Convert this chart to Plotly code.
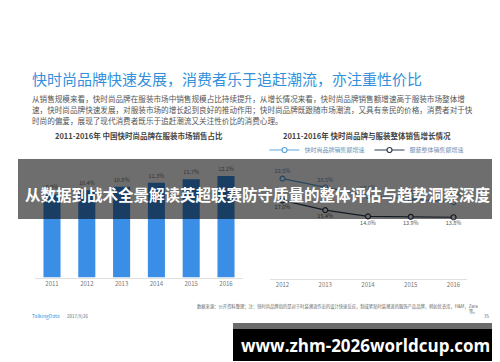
import plotly.graph_objects as go

# ---------------- data ----------------
share_years = ["2011", "2012", "2013", "2014", "2015", "2016"]
share_values = [9.9, 10.4, 10.8, 11.3, 11.7, 12.1]

growth_years = ["2012", "2013", "2014", "2015", "2016"]
fast_fashion_growth = [22.5, 20.5, 18.6, 17.9, 17.2]
apparel_growth = [17.6, 15.4, 14.0, 13.9, 13.8]

title_text = "快时尚品牌快速发展，消费者乐于追赶潮流，亦注重性价比"
para_lines = [
    "从销售规模来看，快时尚品牌在服装市场中销售规模占比持续提升，从增长情况来看，快时尚品牌销售额增速高于服装市场整体增",
    "速，快时尚品牌快速发展，对服装市场的增长起到良好的推动作用；快时尚品牌既跟随市场潮流，又具有亲民的价格，消费者对于快",
    "时尚的偏爱，展现了现代消费者既乐于追赶潮流又关注性价比的消费心理。",
]
left_sub = "2011-2016年 中国快时尚品牌在服装市场销售占比"
right_sub = "2011-2016年 快时尚品牌与服装整体销售增长情况"
series_names = ["快时尚品牌销售额增速", "服装整体销售额增速"]
banner_text = "从数据到战术全景解读英超联赛防守质量的整体评估与趋势洞察深度"
source_text = "数据来源：公开资料整理；注：快时尚品牌指的是对于时装潮流作出的设计快速反应，制成紧贴时装潮流的服饰产品品牌，例如优衣库，H&M，Zara"
source_tail = "等。"
url_text = "www.zhm-2026worldcup.com"

W, H = 500, 362
CJK = "Noto Sans CJK SC"
BLUE = "#3a8ee6"
LIGHT_LINE = "#5aa7df"
DARK_LINE = "#2d3e55"


def px(x):
    return x / W


def py(y):
    return 1 - y / H


fig = go.Figure()

fig.add_trace(go.Bar(
    x=share_years, y=share_values, xaxis="x", yaxis="y",
    marker=dict(color=BLUE, line=dict(width=0)),
    texttemplate="%{y:.1f}%", textposition="outside",
    textfont=dict(size=5.5, color="#777", family=CJK),
    cliponaxis=False, showlegend=False,
))

fig.add_trace(go.Scatter(
    x=growth_years, y=fast_fashion_growth, xaxis="x2", yaxis="y2",
    mode="lines+markers+text", name=series_names[0],
    line=dict(color=LIGHT_LINE, width=1.2),
    marker=dict(symbol="circle", size=5, color="white",
                line=dict(color=LIGHT_LINE, width=1.2)),
    text=[f"{v:.1f}%" for v in fast_fashion_growth], textposition="top center",
    textfont=dict(size=5.5, color="#5a8fc0", family=CJK),
    cliponaxis=False,
))
fig.add_trace(go.Scatter(
    x=growth_years, y=apparel_growth, xaxis="x2", yaxis="y2",
    mode="lines+markers+text", name=series_names[1],
    line=dict(color=DARK_LINE, width=1.2),
    marker=dict(symbol="circle", size=5, color="white",
                line=dict(color=DARK_LINE, width=1.2)),
    text=[f"{v:.1f}%" for v in apparel_growth], textposition="bottom center",
    textfont=dict(size=5.5, color="#555", family=CJK),
    cliponaxis=False,
))

axis_common = dict(showgrid=False, zeroline=False, ticks="",
                   tickfont=dict(size=6, color="#777", family=CJK),
                   showline=True, linecolor="#e0e0e0", linewidth=1,
                   type="category", fixedrange=True)
yaxis_common = dict(showgrid=False, zeroline=False, showticklabels=False,
                    showline=False, ticks="", fixedrange=True)

annotations = [
    dict(text=title_text, x=px(22), y=py(70), xanchor="left", yanchor="middle",
         font=dict(size=15, color="#3390dc", family=CJK)),
]
for i, line in enumerate(para_lines):
    annotations.append(dict(text=line, x=px(22), y=py(90 + i * 11), xanchor="left",
                            yanchor="middle", font=dict(size=7.6, color="#555", family=CJK)))
annotations += [
    dict(text="<b>" + left_sub + "</b>", x=px(131), y=py(127), xanchor="center", yanchor="middle",
         font=dict(size=7.5, color="#444", family=CJK)),
    dict(text="<b>" + right_sub + "</b>", x=px(359), y=py(127), xanchor="center", yanchor="middle",
         font=dict(size=7.5, color="#444", family=CJK)),
    dict(text="<b>" + banner_text + "</b>", x=px(250), y=py(186), xanchor="center", yanchor="middle",
         font=dict(size=15.5, color="white", family=CJK)),
    dict(text=source_text, x=px(472), y=py(298), xanchor="right", yanchor="middle",
         font=dict(size=4.3, color="#666", family=CJK)),
    dict(text=source_tail, x=px(472), y=py(303), xanchor="right", yanchor="middle",
         font=dict(size=4.3, color="#666", family=CJK)),
    dict(text="35", x=px(478), y=py(308), xanchor="center", yanchor="middle",
         font=dict(size=4.5, color="#666", family=CJK)),
    dict(text="TalkingData", x=px(22), y=py(308), xanchor="left", yanchor="middle",
         font=dict(size=5, color="#3a8ee6", family=CJK)),
    dict(text="2017/9/26", x=px(57), y=py(308), xanchor="left", yanchor="middle",
         font=dict(size=4.5, color="#666", family=CJK)),
    dict(text="<b>" + url_text + "</b>", x=px(357), y=py(337), xanchor="center", yanchor="middle",
         font=dict(size=17, color="white", family="Open Sans")),
]
for a in annotations:
    a.update(xref="paper", yref="paper", showarrow=False)

shapes = [
    dict(type="rect", xref="paper", yref="paper", x0=px(10), x1=px(491), y0=py(211), y1=py(151),
         fillcolor="rgba(0,0,0,0.57)", line=dict(width=0), layer="above"),
    dict(type="rect", xref="paper", yref="paper", x0=px(225), x1=px(491), y0=py(321), y1=py(315),
         fillcolor="#6b6b6b", line=dict(width=0), layer="above"),
    dict(type="rect", xref="paper", yref="paper", x0=px(225), x1=px(491), y0=py(353), y1=py(321),
         fillcolor="#000000", line=dict(width=0), layer="above"),
]

fig.update_layout(
    width=W, height=H, autosize=False,
    margin=dict(l=0, r=0, t=0, b=0),
    paper_bgcolor="white", plot_bgcolor="white",
    bargap=0.51,
    xaxis=dict(domain=[px(26.6), px(235.4)], anchor="y", **axis_common),
    yaxis=dict(domain=[py(269.5), py(152)], range=[0, 14], anchor="x", **yaxis_common),
    xaxis2=dict(domain=[px(261.5), px(458.5)], anchor="y2", **axis_common),
    yaxis2=dict(domain=[py(270.5), py(137.3)], range=[0, 30], anchor="x2", **yaxis_common),
    legend=dict(orientation="h", x=px(359), xanchor="center", y=py(142), yanchor="middle",
                font=dict(size=6, color="#6a8fb5", family=CJK), bgcolor="rgba(0,0,0,0)",
                itemwidth=30, tracegroupgap=0),
    annotations=annotations,
    shapes=shapes,
)

fig.write_html("out.html")
